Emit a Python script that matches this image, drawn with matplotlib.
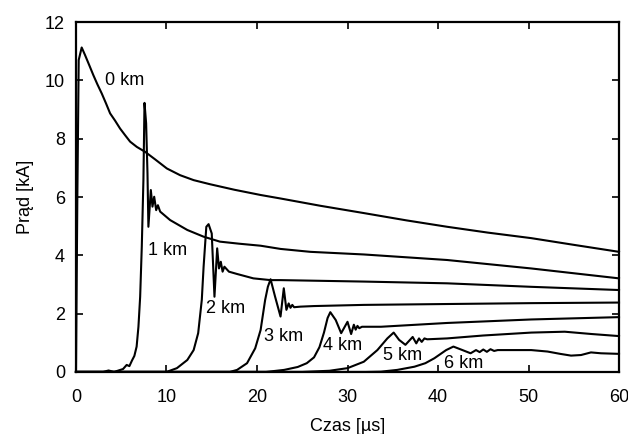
import matplotlib
matplotlib.use("Agg")
import matplotlib.pyplot as plt

plt.rcParams['font.family'] = ['Liberation Sans', 'DejaVu Sans']

# Time [us] and current [kA] for each distance
t_0km = [0, 0.15, 0.3, 0.63, 1.0, 1.47, 1.92, 2.36, 2.85, 3.32, 3.77, 4.32, 4.87, 5.43,
         5.98, 6.72, 7.64, 8.75, 10.04, 11.5, 13.0, 14.8, 17.5, 20.4, 22.6, 27.0, 31.8,
         36.5, 41.0, 45.5, 50.3, 55.0, 60]
i_0km = [0, 6.0, 10.7, 11.13, 10.87, 10.52, 10.18, 9.87, 9.55, 9.21, 8.87, 8.62, 8.35, 8.12,
         7.9, 7.72, 7.55, 7.29, 6.98, 6.75, 6.58, 6.44, 6.25, 6.07, 5.95, 5.7, 5.45,
         5.2, 4.98, 4.78, 4.59, 4.36, 4.12]

t_1km = [0, 3.0, 3.6, 4.2, 4.8, 5.2, 5.6, 5.9, 6.2, 6.45, 6.7, 6.9, 7.09, 7.27, 7.45,
         7.57, 7.75, 7.9, 8.0, 8.27, 8.45, 8.64, 8.86, 9.05, 9.3, 10.4, 12.3, 14.1, 15.9,
         18.0, 20.4, 22.6, 25.9, 31.8, 41.0, 50.3, 60]
i_1km = [0, 0, 0.05, 0.0, 0.06, 0.1, 0.24, 0.2, 0.4, 0.55, 0.87, 1.55, 2.58, 4.3, 6.58,
         9.23, 8.53, 6.81, 4.98, 6.24, 5.67, 6.01, 5.55, 5.72, 5.5, 5.21, 4.87, 4.64, 4.47,
         4.4, 4.33, 4.22, 4.12, 4.03, 3.84, 3.55, 3.21]

t_2km = [0, 10.0, 11.15, 12.3, 13.0, 13.5, 13.9, 14.1, 14.4, 14.65, 15.0, 15.3, 15.6,
         15.8, 16.0, 16.2, 16.4, 16.9, 17.8, 19.6, 21.5, 22.6, 31.8, 41.0, 50.3, 60]
i_2km = [0, 0, 0.13, 0.41, 0.75, 1.33, 2.47, 3.61, 4.98, 5.07, 4.75, 2.58, 4.24,
         3.55, 3.78, 3.44, 3.61, 3.44, 3.36, 3.21, 3.15, 3.15, 3.1, 3.04, 2.92, 2.81]

t_3km = [0, 17.0, 17.8, 18.9, 19.8, 20.4, 20.9, 21.2, 21.5, 22.0, 22.6, 22.96, 23.25,
         23.5, 23.7, 23.9, 24.1, 24.8, 26.3, 31.8, 41.0, 50.3, 60]
i_3km = [0, 0, 0.07, 0.3, 0.81, 1.44, 2.47, 2.92, 3.18, 2.58, 1.9, 2.87, 2.13,
         2.35, 2.2, 2.3, 2.22, 2.24, 2.26, 2.3, 2.33, 2.36, 2.38]

t_4km = [0, 21.0, 23.0, 24.5, 25.5, 26.3, 26.9, 27.4, 27.8, 28.1, 28.7, 29.3, 30.0, 30.4,
         30.7, 30.9, 31.1, 31.3, 31.6, 33.7, 41.0, 50.3, 60]
i_4km = [0, 0, 0.07, 0.17, 0.3, 0.5, 0.85, 1.35, 1.85, 2.05, 1.78, 1.33, 1.72, 1.3,
         1.62, 1.45, 1.58, 1.5, 1.55, 1.55, 1.68, 1.8, 1.88]

t_5km = [0, 25.0, 28.0, 30.0, 31.8, 33.3, 34.4, 35.1, 35.7, 36.4, 37.2, 37.6, 37.9,
         38.2, 38.5, 38.8, 41.0, 45.0, 50.3, 54.0, 57.0, 60]
i_5km = [0, 0, 0.04, 0.13, 0.35, 0.75, 1.15, 1.35, 1.1, 0.93, 1.2, 0.98, 1.15,
         1.03, 1.15, 1.12, 1.15, 1.25, 1.35, 1.38, 1.3, 1.23]

t_6km = [0, 32.0, 33.7, 35.5, 37.4, 38.6, 39.6, 40.9, 41.7, 42.7, 43.6, 44.2, 44.6,
         45.0, 45.4, 45.8, 46.2, 46.6, 50.3, 52.1, 53.5, 54.7, 55.8, 56.9, 58.0, 60]
i_6km = [0, 0, 0.01, 0.07, 0.18, 0.3, 0.47, 0.75, 0.87, 0.75, 0.64, 0.75, 0.68,
         0.77, 0.69, 0.78, 0.72, 0.75, 0.75, 0.7, 0.62, 0.56, 0.58, 0.67, 0.64, 0.62]

labels = ["0 km", "1 km", "2 km", "3 km", "4 km", "5 km", "6 km"]
label_t = [5.4, 10.1, 16.5, 22.9, 29.5, 36.1, 42.8]
label_i = [10.0, 4.15, 2.18, 1.23, 0.89, 0.58, 0.29]

xticks = [0, 10, 20, 30, 40, 50, 60]
yticks = [0, 2, 4, 6, 8, 10, 12]

fig = plt.figure(figsize=(6.28, 4.34), dpi=100)
ax = fig.add_axes([0.121, 0.143, 0.8647, 0.806])

series = [(t_0km, i_0km), (t_1km, i_1km), (t_2km, i_2km), (t_3km, i_3km),
          (t_4km, i_4km), (t_5km, i_5km), (t_6km, i_6km)]
for t, i in series:
    ax.plot(t, i, color='black', lw=1.5, solid_joinstyle='round', clip_on=False)

for lab, x, y in zip(labels, label_t, label_i):
    ax.text(x, y, lab, fontsize=13, ha='center', va='center')

ax.set_xlim(0, 60)
ax.set_ylim(0, 12)
ax.set_xticks(xticks)
ax.set_yticks(yticks)
ax.tick_params(axis='both', direction='in', top=True, right=True, length=5, width=1.2,
               labelsize=13)
ax.tick_params(axis='x', pad=12)
ax.tick_params(axis='y', pad=8)
for s in ax.spines.values():
    s.set_linewidth(1.6)
ax.set_xlabel("Czas [µs]", fontsize=13, labelpad=9)
ax.set_ylabel("Prąd [kA]", fontsize=13, labelpad=8)

fig.savefig("out.png", dpi=100)
